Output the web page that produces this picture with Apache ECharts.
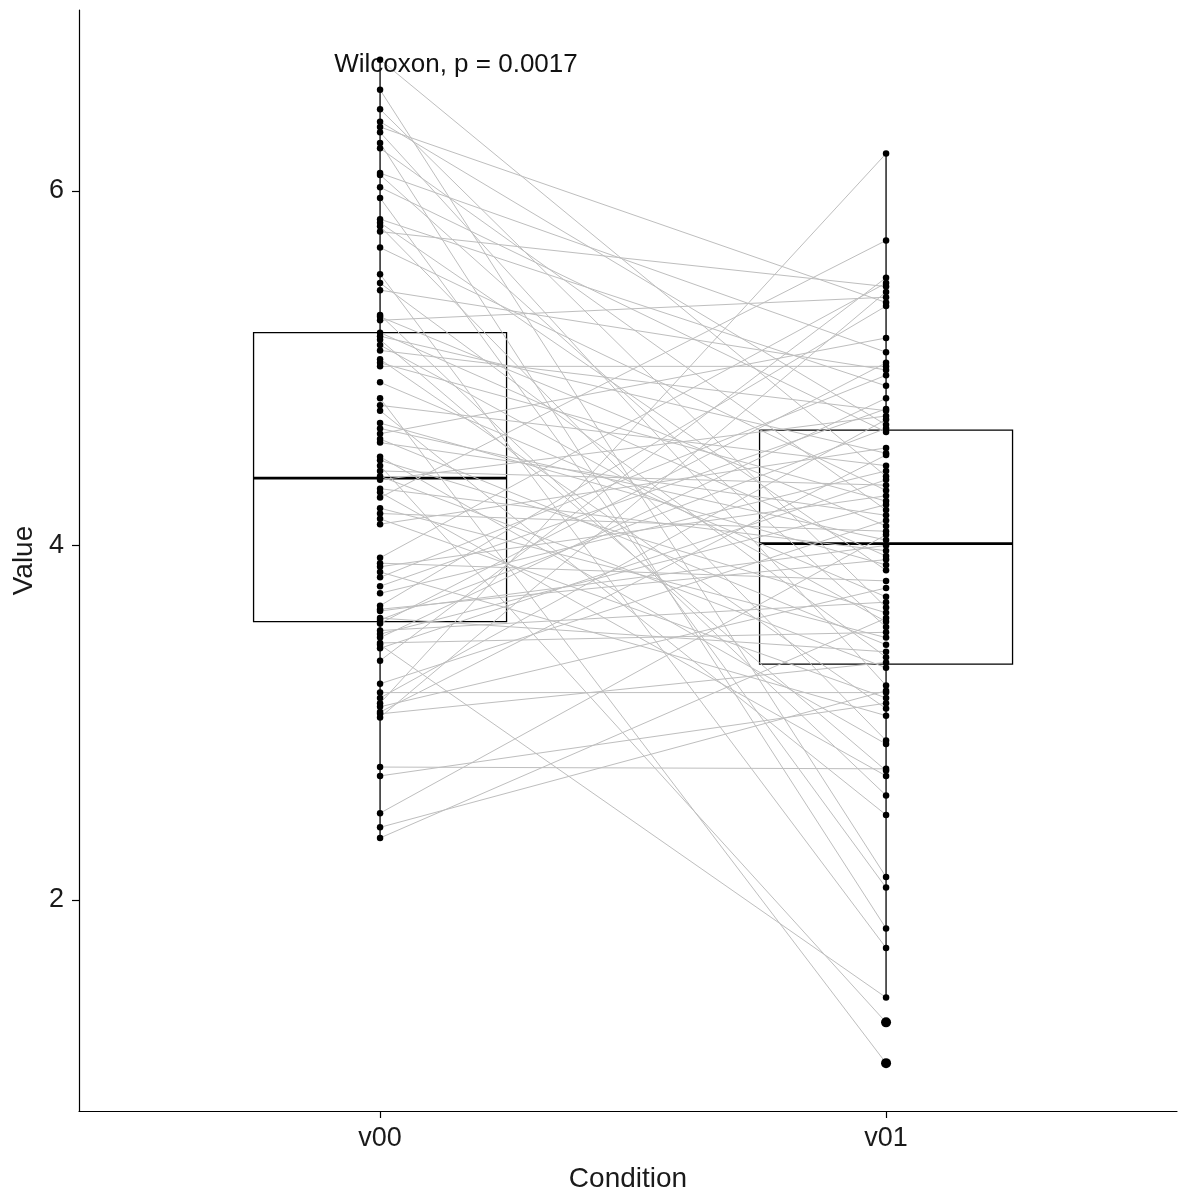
<!DOCTYPE html>
<html><head><meta charset="utf-8">
<script src="https://cdn.jsdelivr.net/npm/echarts@6/dist/echarts.min.js"></script>
<style>html,body{margin:0;padding:0;background:#fff}#c{width:1197px;height:1198px}</style>
</head><body><div id="c"></div>
<script>
// ---- data ----
const categories = ['v00', 'v01'];
const v00 = [6.74,6.57,6.46,6.39,6.36,6.33,6.27,6.24,6.10,6.09,6.02,5.96,5.84,5.82,5.80,5.77,5.68,5.53,5.48,5.44,5.30,5.29,
  5.27,5.20,5.18,5.16,5.13,5.10,5.05,5.03,5.01,4.92,4.83,4.79,4.76,4.69,4.66,4.63,4.60,4.58,4.50,4.48,4.45,4.42,4.39,4.37,4.32,4.30,4.27,4.21,4.18,4.15,4.12,3.93,3.90,3.88,3.85,3.82,3.77,
  3.73,3.66,3.64,3.63,3.59,3.58,3.56,3.52,3.50,3.48,3.45,3.44,3.42,3.35,3.22,3.17,3.14,3.11,3.09,3.06,3.05,3.03,2.75,2.70,2.49,2.41,2.35];
const v01 = [4.39,2.13,3.65,4.68,5.37,3.21,1.84,4.20,5.09,3.54,4.64,2.07,4.90,3.86,2.90,5.46,4.31,1.73,3.37,4.99,2.59,4.11,
  5.40,3.94,4.52,2.73,3.57,4.76,3.08,4.25,5.01,3.71,1.08,4.45,2.48,3.89,4.03,5.17,3.44,4.17,2.88,3.62,1.31,4.34,3.31,4.73,3.97,2.70,5.72,3.48,4.08,3.14,4.55,5.48,3.80,4.28,3.04,4.96,4.77,
  4.42,5.35,3.92,4.00,3.40,4.66,5.03,3.68,4.23,4.83,3.51,1.45,4.37,5.51,4.14,3.17,4.71,6.21,3.76,4.51,3.34,5.43,2.74,3.11,4.06,3.18,3.59];
// box statistics: [lower whisker, Q1, median, Q3, upper whisker]
const boxV00 = [2.35, 3.57, 4.38, 5.20, 6.74];
const boxV01 = [1.45, 3.33, 4.01, 4.65, 6.21];
const outlierV01 = [1.31, 1.08];
const yTicks = [2, 4, 6];
const annotationText = 'Wilcoxon, p = 0.0017';
const annotationPos = [1.15, 6.71];

// ---- chart ----
const FONT = 'Liberation Sans, Arial, sans-serif';
const chart = echarts.init(document.getElementById('c'), null, {renderer: 'canvas'});
const boxes = [[1, ...boxV00], [2, ...boxV01]];
const pairs = v00.map((a, i) => [1, a, 2, v01[i]]);

const option = {
  animation: false,
  backgroundColor: '#fff',
  grid: {left: 79, right: 20, top: 10, bottom: 87, containLabel: false},
  xAxis: {
    type: 'value', min: 0.405, max: 2.575,
    name: 'Condition', nameLocation: 'middle', nameGap: 54,
    nameTextStyle: {fontFamily: FONT, fontSize: 28, color: '#1a1a1a'},
    axisLine: {show: true, lineStyle: {color: '#000', width: 1.2}},
    axisTick: {show: true, customValues: [1, 2], length: 7, lineStyle: {color: '#000', width: 1.2}},
    axisLabel: {customValues: [1, 2], formatter: v => categories[Math.round(v) - 1] || '', fontFamily: FONT, fontSize: 27, color: '#1a1a1a', margin: 14},
    splitLine: {show: false}
  },
  yAxis: {
    type: 'value', min: 0.81, max: 7.02,
    name: 'Value', nameLocation: 'middle', nameGap: 38,
    nameTextStyle: {fontFamily: FONT, fontSize: 28, color: '#1a1a1a'},
    axisLine: {show: true, lineStyle: {color: '#000', width: 1.2}},
    axisTick: {show: true, customValues: yTicks, length: 7, lineStyle: {color: '#000', width: 1.2}},
    axisLabel: {customValues: yTicks, fontFamily: FONT, fontSize: 27, color: '#1a1a1a', margin: 15},
    splitLine: {show: false}
  },
  series: [
    {
      type: 'custom', z: 1,
      encode: {x: 0, y: [1, 2, 3, 4, 5]},
      data: boxes,
      renderItem: (params, api) => {
        const x = api.value(0), hw = 0.25;
        const lo = api.value(1), q1 = api.value(2), med = api.value(3), q3 = api.value(4), hi = api.value(5);
        const pHi = api.coord([x, hi]), pLo = api.coord([x, lo]);
        const pQ3 = api.coord([x, q3]), pQ1 = api.coord([x, q1]);
        const tl = api.coord([x - hw, q3]), br = api.coord([x + hw, q1]);
        const mL = api.coord([x - hw, med]), mR = api.coord([x + hw, med]);
        const st = {stroke: '#000', lineWidth: 1.3, fill: null};
        return {type: 'group', children: [
          {type: 'line', shape: {x1: pHi[0], y1: pHi[1], x2: pQ3[0], y2: pQ3[1]}, style: st},
          {type: 'line', shape: {x1: pQ1[0], y1: pQ1[1], x2: pLo[0], y2: pLo[1]}, style: st},
          {type: 'rect', shape: {x: tl[0], y: tl[1], width: br[0] - tl[0], height: br[1] - tl[1]}, style: st},
          {type: 'line', shape: {x1: mL[0], y1: mL[1], x2: mR[0], y2: mR[1]}, style: {stroke: '#000', lineWidth: 2.8}}
        ]};
      }
    },
    {
      type: 'custom', z: 2,
      encode: {x: [0, 2], y: [1, 3]},
      data: pairs,
      renderItem: (params, api) => {
        const p1 = api.coord([api.value(0), api.value(1)]);
        const p2 = api.coord([api.value(2), api.value(3)]);
        return {type: 'line', shape: {x1: p1[0], y1: p1[1], x2: p2[0], y2: p2[1]}, style: {stroke: '#bebebe', lineWidth: 1}};
      }
    },
    {
      type: 'scatter', z: 3, symbolSize: 6.5, itemStyle: {color: '#000', opacity: 1},
      data: v00.map(v => [1, v]).concat(v01.map(v => [2, v]))
    },
    {
      type: 'scatter', z: 4, symbolSize: 10, itemStyle: {color: '#000', opacity: 1},
      data: outlierV01.map(v => [2, v])
    },
    {
      type: 'scatter', z: 2, symbolSize: 0, itemStyle: {opacity: 1},
      data: [annotationPos],
      label: {show: true, position: 'inside', formatter: annotationText, fontFamily: FONT, fontSize: 26, color: '#111', opacity: 1}
    }
  ]
};
chart.setOption(option);
</script>
</body></html>
